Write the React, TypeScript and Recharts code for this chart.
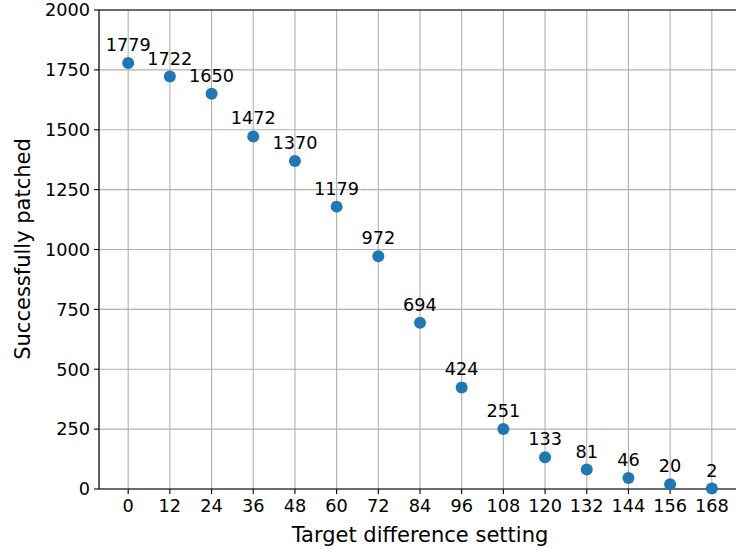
import React from 'react';
import {
    ScatterChart,
    Scatter,
    XAxis,
    YAxis,
    CartesianGrid,
    ReferenceLine,
} from 'recharts';

const targetSettings = [0, 12, 24, 36, 48, 60, 72, 84, 96, 108, 120, 132, 144, 156, 168];
const patchedCounts = [1779, 1722, 1650, 1472, 1370, 1179, 972, 694, 424, 251, 133, 81, 46, 20, 2];
const yTicks = [0, 250, 500, 750, 1000, 1250, 1500, 1750, 2000];

const data = targetSettings.map((x, i) => ({ x, y: patchedCounts[i] }));

const FONT = 'DejaVu Sans, sans-serif';
const BLUE = '#1f77b4';
const TEXT_SIZE = 17.7;

// dot plus its value written above it
const DotWithLabel = (props: any) => {
    const { cx, cy, payload } = props;
    return (
        <g>
            <circle cx={cx} cy={cy} r={6} fill={BLUE} />
            <text
                x={cx}
                y={cy - 12}
                textAnchor="middle"
                fontFamily={FONT}
                fontSize={TEXT_SIZE}
                fill="#000"
            >
                {payload.y}
            </text>
        </g>
    );
};

const titleStyle: React.CSSProperties = {
    position: 'absolute',
    fontFamily: FONT,
    fontSize: 21,
    color: '#000',
    whiteSpace: 'nowrap',
    lineHeight: '24px',
};

export default function App() {
    return (
        <div
            style={{
                position: 'absolute',
                left: 0,
                top: 0,
                width: 736,
                height: 549,
                overflow: 'hidden',
                background: '#fff',
            }}
        >
            <ScatterChart
                width={745}
                height={549}
                margin={{ top: 10, right: 4, left: 0, bottom: 0 }}
            >
                <CartesianGrid stroke="#b0b0b0" strokeWidth={1.1} />
                <XAxis
                    type="number"
                    dataKey="x"
                    domain={[-8.4, 176.4]}
                    ticks={targetSettings}
                    interval={0}
                    height={60}
                    axisLine={{ stroke: '#000', strokeWidth: 1.1 }}
                    tickLine={{ stroke: '#000', strokeWidth: 1.1 }}
                    tickSize={5}
                    tickMargin={5}
                    tick={{ fill: '#000', fontSize: TEXT_SIZE, fontFamily: FONT }}
                />
                <YAxis
                    type="number"
                    dataKey="y"
                    domain={[0, 2000]}
                    ticks={yTicks}
                    interval={0}
                    width={99}
                    axisLine={{ stroke: '#000', strokeWidth: 1.1 }}
                    tickLine={{ stroke: '#000', strokeWidth: 1.1 }}
                    tickSize={5}
                    tickMargin={4}
                    tick={{ fill: '#000', fontSize: TEXT_SIZE, fontFamily: FONT }}
                />
                <ReferenceLine y={2000} stroke="#000" strokeWidth={1.1} />
                <Scatter data={data} shape={DotWithLabel} isAnimationActive={false} />
            </ScatterChart>
            <div
                style={{
                    ...titleStyle,
                    left: 420,
                    top: 535,
                    transform: 'translate(-50%, -50%)',
                }}
            >
                Target difference setting
            </div>
            <div
                style={{
                    ...titleStyle,
                    left: 23,
                    top: 249,
                    transform: 'translate(-50%, -50%) rotate(-90deg)',
                }}
            >
                Successfully patched
            </div>
        </div>
    );
}
